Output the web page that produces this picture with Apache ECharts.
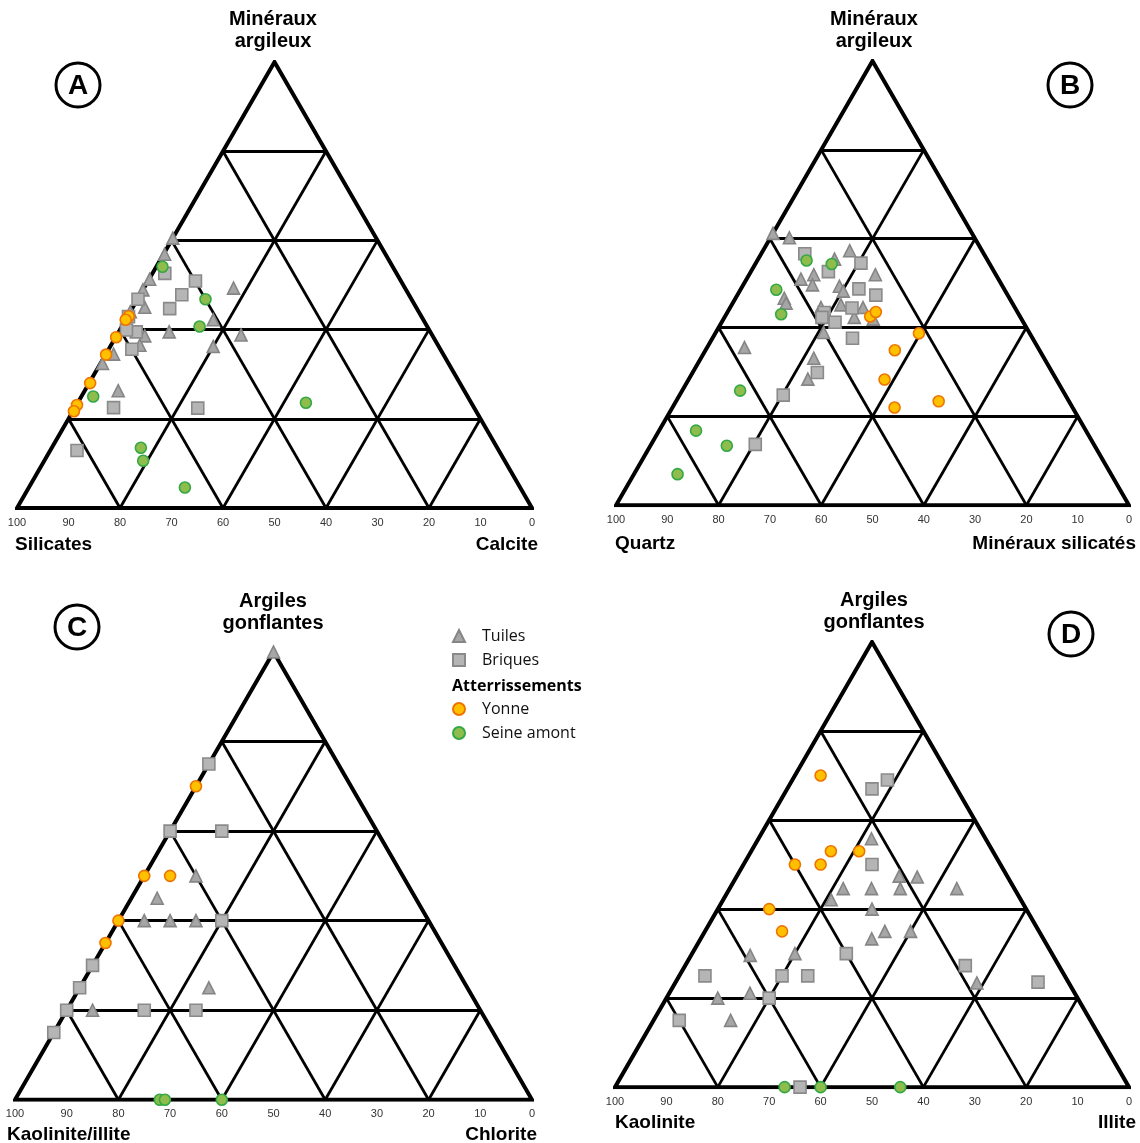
<!DOCTYPE html>
<html>
<head>
<meta charset="utf-8">
<title>Diagrammes ternaires</title>
<script src="https://cdn.jsdelivr.net/npm/echarts@6/dist/echarts.min.js"></script>
<style>
html, body { margin: 0; padding: 0; background: #fff; }
#chart { width: 1140px; height: 1143px; }
</style>
</head>
<body>
<div id="chart"></div>
<script>
// compositions en % : [sommet, droite]  (gauche = 100 - sommet - droite)
var tickLabels = ['100', '90', '80', '70', '60', '50', '40', '30', '20', '10', '0'];

// A : Minéraux argileux / Silicates / Calcite
var tuilesA = [[60.5, 0], [56.9, 0.2], [51.3, 0.1], [48.9, 0], [45, 2.3], [44, 0], [49.3, 17.4], [42.2, 17], [39.5, 9.8],
  [38.6, 5.5], [36.5, 5.6], [38.8, 24.1], [36.2, 20], [34.5, 1.5], [32.4, 0.4], [26.3, 6.5]];
var briquesA = [[52.6, 2.4], [50.9, 9.2], [47.8, 8.1], [46.8, 0.1], [44.7, 7.3], [42.9, 0.2], [39.5, 3.4], [39.9, 1.3],
  [35.6, 4.5], [22.5, 7.5], [22.4, 23.9], [12.9, 5.2]];
var yonneA = [[43, 0.2], [42.2, 0], [38.3, 0.1], [34.4, 0.1], [28, 0.2], [23.1, 0.1], [21.7, 0.2]];
var seineA = [[54.1, 1.2], [46.8, 13.2], [40.7, 15.1], [25, 2.3], [23.6, 44.3], [13.5, 17.3], [10.6, 19.2], [4.6, 30.3]];

// B : Minéraux argileux / Quartz / Minéraux silicatés
var tuilesB = [[61.2, 0], [60.2, 3.7], [57.3, 16.9], [55.4, 14.9], [51.9, 12.6], [50.9, 10.6], [49.6, 13.5], [51.9, 24.6],
  [49.3, 18.9], [48.2, 20.2], [46.6, 9.5], [45.5, 10.4], [45.1, 21.3], [44.5, 25.9], [44.5, 17.7], [42.3, 25.3],
  [41.9, 29.2], [38.9, 21], [35.5, 7.3], [33.1, 22], [28.4, 23.2]];
var briquesB = [[56.6, 8.5], [54.5, 20.5], [52.6, 15.1], [48.7, 23], [47.3, 27], [44.4, 23.8], [43.4, 18.9], [42.3, 19],
  [41.2, 22.1], [37.6, 27.3], [29.9, 24.3], [24.8, 20.2], [13.7, 20.3]];
var yonneB = [[42.5, 28.3], [43.5, 28.9], [38.7, 39.7], [34.9, 36.9], [28.3, 38.2], [22, 43.3], [23.4, 51.2]];
var seineB = [[55.1, 9.6], [54.3, 14.9], [48.5, 7], [43, 10.7], [25.8, 11.3], [16.8, 7.2], [13.4, 14.9], [7, 8.5]];

// C : Argiles gonflantes / Kaolinite-illite / Chlorite
var tuilesC = [[100, 0], [50, 10], [45, 5], [40, 5], [40, 10], [40, 15], [25, 25], [20, 5]];
var briquesC = [[75, 0], [60, 0], [60, 10], [40, 20], [30, 0], [25, 0], [20, 0], [20, 15], [20, 25], [15, 0]];
var yonneC = [[70, 0], [50, 0], [50, 5], [40, 0], [35, 0]];
var seineC = [[0, 28], [0, 29], [0, 40]];

// D : Argiles gonflantes / Kaolinite / Illite
var tuilesD = [[55.8, 22], [47.4, 31.6], [47.2, 35.2], [44.6, 22.1], [44.6, 27.6], [44.6, 33.2], [44.6, 44.2], [42.1, 21],
  [40, 30], [35, 35], [35, 40], [33.3, 33.3], [29.6, 11.5], [30, 20], [23.4, 58.7], [20, 10], [21.1, 15.7], [15, 15]];
var briquesD = [[69, 18.5], [67, 16.5], [50, 25], [25, 5], [25, 20], [25, 25], [30, 30], [27.3, 54.5], [23.6, 70.5],
  [20, 20], [15, 5], [0, 36]];
var yonneD = [[70, 5], [53, 15.5], [53, 21], [50, 10], [50, 15], [40, 10], [35, 15]];
var seineD = [[0, 33], [0, 40], [0, 55.5]];

var S3 = Math.sqrt(3) / 2;
function toXY(p) { return [p[1] + p[0] / 2, p[0] * S3]; }

var panels = [
  { left: 17, top: 62, side: 515, data: [tuilesA, briquesA, yonneA, seineA] },
  { left: 616, top: 61, side: 513, data: [tuilesB, briquesB, yonneB, seineB] },
  { left: 15, top: 652, side: 517, data: [tuilesC, briquesC, yonneC, seineC] },
  { left: 615, top: 642, side: 514, data: [tuilesD, briquesD, yonneD, seineD] }
];

var styles = [
  { name: 'Tuiles', symbol: 'triangle', size: 12, color: '#a6a6a6', border: '#858585' },
  { name: 'Briques', symbol: 'rect', size: 12, color: '#b5b5b5', border: '#8a8a8a' },
  { name: 'Yonne', symbol: 'circle', size: 11, color: '#ffc000', border: '#ee7400' },
  { name: 'Seine amont', symbol: 'circle', size: 11, color: '#8fbd4d', border: '#34a845' }
];

var grids = [], xAxes = [], yAxes = [], series = [];
panels.forEach(function (p, i) {
  grids.push({ left: p.left, top: p.top, width: p.side, height: p.side * S3 });
  xAxes.push({
    gridIndex: i, type: 'value', min: 0, max: 100, interval: 10,
    axisLine: { show: false }, axisTick: { show: false }, splitLine: { show: false },
    axisLabel: {
      show: true, showMinLabel: true, showMaxLabel: true, margin: 9,
      fontFamily: 'Liberation Sans', fontSize: 11, color: '#333',
      formatter: function (v) { return tickLabels[Math.round(v / 10)]; }
    }
  });
  yAxes.push({ gridIndex: i, type: 'value', min: 0, max: 100 * S3, show: false });

  var inner = [];
  [20, 40, 60, 80].forEach(function (k) {
    inner.push({ coords: [toXY([k, 0]), toXY([k, 100 - k])] });
    inner.push({ coords: [toXY([0, k]), toXY([100 - k, k])] });
    inner.push({ coords: [toXY([0, 100 - k]), toXY([100 - k, 0])] });
  });
  series.push({
    type: 'lines', coordinateSystem: 'cartesian2d', xAxisIndex: i, yAxisIndex: i,
    data: inner, silent: true, z: 1,
    lineStyle: { color: '#000', width: 2.8, opacity: 1 }
  });
  series.push({
    type: 'lines', coordinateSystem: 'cartesian2d', xAxisIndex: i, yAxisIndex: i, polyline: true,
    data: [{ coords: [toXY([0, 0]), toXY([0, 100]), toXY([100, 0]), toXY([0, 0]), toXY([0, 100])] }],
    silent: true, z: 2,
    lineStyle: { color: '#000', width: 4, opacity: 1, join: 'miter' }
  });

  styles.forEach(function (s, j) {
    series.push({
      name: s.name, type: 'scatter', xAxisIndex: i, yAxisIndex: i,
      symbol: s.symbol, symbolSize: s.size, z: 3 + j,
      data: p.data[j].map(toXY),
      itemStyle: { color: s.color, borderColor: s.border, borderWidth: 1.6, opacity: 1 },
      emphasis: { disabled: true }
    });
  });
});

function label(text, x, y, align, size) {
  return {
    type: 'text', x: x, y: y, silent: true,
    style: {
      text: text, fill: '#000', textAlign: align, textVerticalAlign: 'middle', verticalAlign: 'middle',
      font: 'bold ' + size + 'px "Liberation Sans", Arial, sans-serif'
    }
  };
}
function badge(letter, cx, cy) {
  return [
    { type: 'circle', shape: { cx: cx, cy: cy, r: 22 }, style: { fill: '#fff', stroke: '#000', lineWidth: 3 }, silent: true },
    label(letter, cx, cy + 1, 'center', 28)
  ];
}

var graphics = [].concat(
  badge('A', 78, 85), badge('B', 1070, 85), badge('C', 77, 627), badge('D', 1071, 634),
  [
    label('Minéraux', 273, 19, 'center', 20), label('argileux', 273, 41, 'center', 20),
    label('Minéraux', 874, 19, 'center', 20), label('argileux', 874, 41, 'center', 20),
    label('Argiles', 273, 601, 'center', 20), label('gonflantes', 273, 623, 'center', 20),
    label('Argiles', 874, 600, 'center', 20), label('gonflantes', 874, 622, 'center', 20),
    label('Silicates', 15, 545, 'left', 19), label('Calcite', 538, 545, 'right', 19),
    label('Quartz', 615, 544, 'left', 19), label('Minéraux silicatés', 1136, 544, 'right', 19),
    label('Kaolinite/illite', 7, 1135, 'left', 19), label('Chlorite', 537, 1135, 'right', 19),
    label('Kaolinite', 615, 1123, 'left', 19), label('Illite', 1136, 1123, 'right', 19),
    {
      type: 'text', x: 452, y: 686, silent: true,
      style: { text: 'Atterrissements', fill: '#000', textVerticalAlign: 'middle', verticalAlign: 'middle',
        font: 'bold 16px "Open Sans", sans-serif' }
    }
  ]
);

var legendText = { fontFamily: 'Open Sans', fontSize: 16, lineHeight: 16, color: '#111', padding: [0, 0, 0, 12] };
var option = {
  animation: false,
  grid: grids,
  xAxis: xAxes,
  yAxis: yAxes,
  legend: [
    { data: ['Tuiles', 'Briques'], orient: 'vertical', left: 452, top: 628, padding: 0, itemWidth: 12, itemHeight: 12,
      itemGap: 8, selectedMode: false, textStyle: legendText },
    { data: ['Yonne', 'Seine amont'], orient: 'vertical', left: 452, top: 701, padding: 0, itemWidth: 12, itemHeight: 12,
      itemGap: 8, selectedMode: false, textStyle: legendText }
  ],
  graphic: graphics,
  series: series
};

var myChart = echarts.init(document.getElementById('chart'));
myChart.setOption(option);
window.onresize = myChart.resize;
</script>
</body>
</html>
